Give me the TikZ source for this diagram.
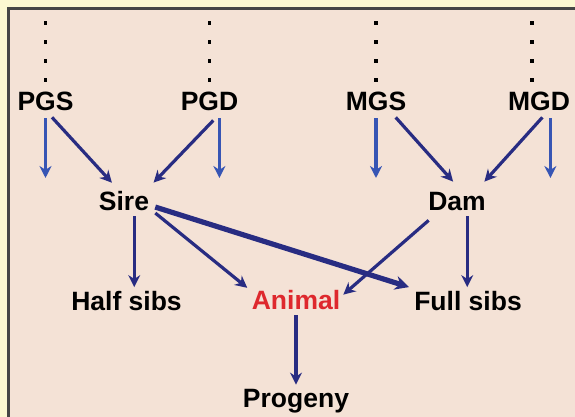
\documentclass[tikz,border=0pt]{standalone}
\usepackage{fontspec}
\setmainfont{Liberation Sans}
\usepackage{tikz}
\usetikzlibrary{arrows.meta}
\usepackage{xcolor}
\definecolor{paper}{RGB}{252,248,210}
\definecolor{panel}{RGB}{244,226,214}
\definecolor{frame}{RGB}{70,70,70}
\definecolor{navy}{RGB}{40,44,130}
\definecolor{midblue}{RGB}{55,85,180}
\definecolor{animalred}{RGB}{222,40,45}
\tikzstyle{lbl} = [font=\bfseries\fontsize{13.25}{16}\selectfont,
text height=9pt,
text depth=0pt,
inner sep=1pt]
\tikzstyle{arrow} = [line width=1.6pt, draw=navy, -{Stealth[length=6pt,width=6pt]}]
\tikzstyle{thickarrow} = [arrow, line width=2.6pt, -{Stealth[length=7pt,width=7pt]}]
\tikzstyle{outarrow} = [arrow, draw=midblue]
\tikzstyle{ancestry} = [line width=1.75pt, dash pattern=on 1.75pt off 7.75pt]

\begin{document}
\begin{tikzpicture}[x=0.5pt, y=-0.5pt, node distance=50pt]
        \useasboundingbox (0,0) rectangle (575,417);
        \fill [paper] (0,0) rectangle (575,417);
        \filldraw [fill=panel, draw=frame, line width=1.25pt] (8.5,8.5) rectangle (585,427);

        % grandparents
        \node (pgs) [lbl] at (45.5,101.5) {PGS};
        \node (pgd) [lbl] at (209.5,101.5) {PGD};
        \node (mgs) [lbl] at (376,101.5) {MGS};
        \node (mgd) [lbl] at (539,101.5) {MGD};
        \node (sire) [lbl] at (124,201.5) {Sire};
        \node (dam) [lbl] at (457,201.5) {Dam};
        \node (halfsibs) [lbl, below of=sire, xshift=1.25pt] {Half sibs};
        \node (animal) [lbl, text=animalred] at (296,301) {Animal};
        \node (fullsibs) [lbl, below of=dam, xshift=5.5pt] {Full sibs};
        \node (progeny) [lbl, below of=animal, yshift=1pt] {Progeny};

        \coordinate (dottop) at (0,21.5);
        \coordinate (gpbase) at (0,178);

        \draw [ancestry] (pgs.north |- dottop) -- (pgs.north);
        \draw [ancestry] (pgd.north |- dottop) -- (pgd.north);
        \draw [ancestry] (mgs.north |- dottop) -- (mgs.north);
        \draw [ancestry] (mgd.122 |- dottop) -- (mgd.122);

        \draw [outarrow, shorten <=2.75pt] (pgs.south) -- (pgs.south |- gpbase);
        \draw [outarrow, shorten <=2.75pt] (pgd.-49) -- (pgd.-49 |- gpbase);
        \draw [outarrow, shorten <=2.75pt] (mgs.south) -- (mgs.south |- gpbase);
        \draw [outarrow, shorten <=2.75pt] (mgd.-45) -- (mgd.-45 |- gpbase);

        \draw [arrow, shorten <=3pt, shorten >=5pt] (pgs.-78) -- (sire.115);
        \draw [arrow, shorten <=5.2pt, shorten >=5.2pt] (pgd.-46) -- (sire.27);
        \draw [arrow, shorten <=3pt, shorten >=5.7pt] (mgs.-36) -- (dam.72);
        \draw [arrow, shorten <=3pt, shorten >=5.7pt] (mgd.-57) -- (dam.30);

        \draw [arrow, shorten <=1.75pt, shorten >=1.5pt] (sire.-48) -- (sire.-48 |- halfsibs.north);
        \draw [arrow, shorten <=2.5pt, shorten >=1.4pt] (sire.-17) -- (animal.north west);
        \draw [thickarrow, shorten <=2pt, shorten >=5pt] (sire.-9) -- (fullsibs.167);
        \draw [arrow, shorten <=5.7pt, shorten >=0.5pt] (dam.-150) -- (animal.7);
        \draw [arrow, shorten <=1.75pt, shorten >=1.5pt] (dam.-48) -- (dam.-48 |- fullsibs.north);
        \draw [arrow, shorten <=1.5pt, shorten >=1.5pt] (animal.south) -- (animal.south |- progeny.north);
    \end{tikzpicture}
\end{document}
